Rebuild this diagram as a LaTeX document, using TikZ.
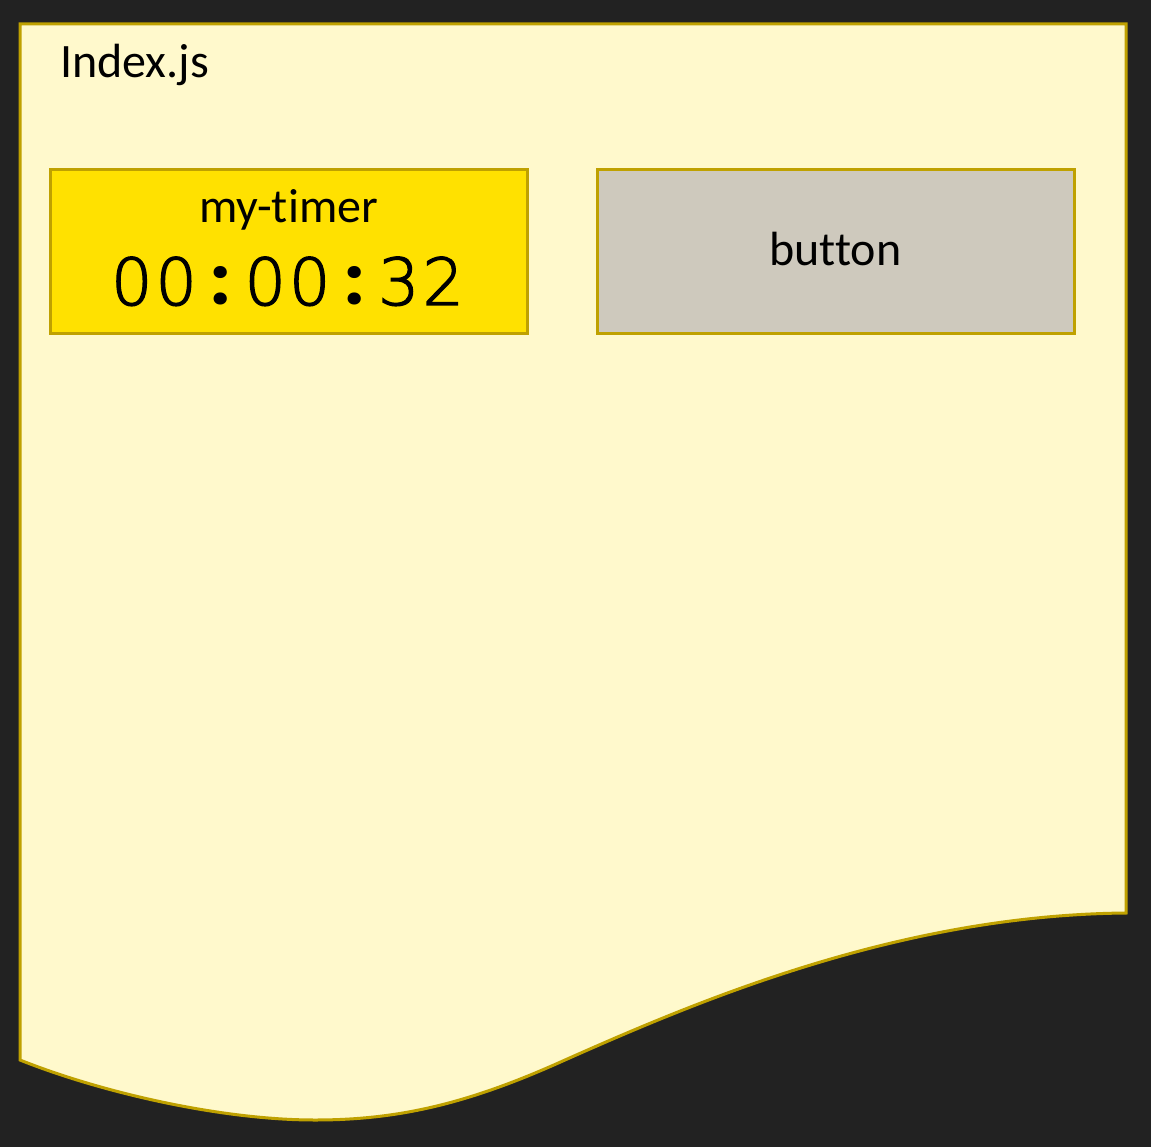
\documentclass[tikz,border=0pt]{standalone}
\usepackage{fontspec}
\setmainfont[Ligatures=NoCommon]{Carlito}
\newfontfamily\timerfont[FakeBold=2]{DejaVuSans-ExtraLight.ttf}
\newfontfamily\colonfont{Poppins}
\usepackage{xcolor}
\usetikzlibrary{positioning}
\definecolor{bgdark}{RGB}{34,34,34}
\definecolor{paper}{RGB}{255,249,204}
\definecolor{edge}{RGB}{191,161,0}
\definecolor{timeryellow}{RGB}{255,225,0}
\definecolor{buttongray}{RGB}{206,201,189}
\newcommand\clk[1]{\makebox[44.5pt]{#1}}
\newcommand\clkcolon{\makebox[44.5pt]{\colonfont\bfseries :}}

\begin{document}
\begin{tikzpicture}[x=1pt,y=-1pt,
    box/.style={rectangle,draw=edge,line width=3pt,minimum width=477pt,minimum height=164pt,inner sep=0pt},
    label/.style={font=\fontsize{48}{56}\selectfont,inner sep=0pt}]
            \fill[bgdark] (0,0) rectangle (1151,1147);
            \useasboundingbox (0,0) rectangle (1151,1147);
            \filldraw[fill=paper,draw=edge,line width=3pt,line join=miter] (20,24) -- (1126,24) -- (1126,913)
                .. controls (900,915) and (700,1000) .. (565,1060)
                .. controls (470,1103) and (400,1120) .. (315,1120)
                .. controls (220,1120) and (100,1092) .. (20,1060) -- cycle;
            \node[label,anchor=base west] (title) at (60,78) {Index.js};
            \node[box,fill=timeryellow] (timer) at (288.5,252) {};
            \node[box,fill=buttongray] (button) at (835.5,252) {};
            \node[label,anchor=base] (timername) at (288.5,223) {my-timer};
            \node[inner sep=0pt,anchor=base,font=\timerfont\fontsize{65}{70}\selectfont] (timerclock) at (287.5,305)
                {\clk{0}\clk{0}\clkcolon\clk{0}\clk{0}\clkcolon\clk{3}\clk{2}};
            \node[label,anchor=base] (buttonname) at (835.5,266) {button};
        \end{tikzpicture}
\end{document}
